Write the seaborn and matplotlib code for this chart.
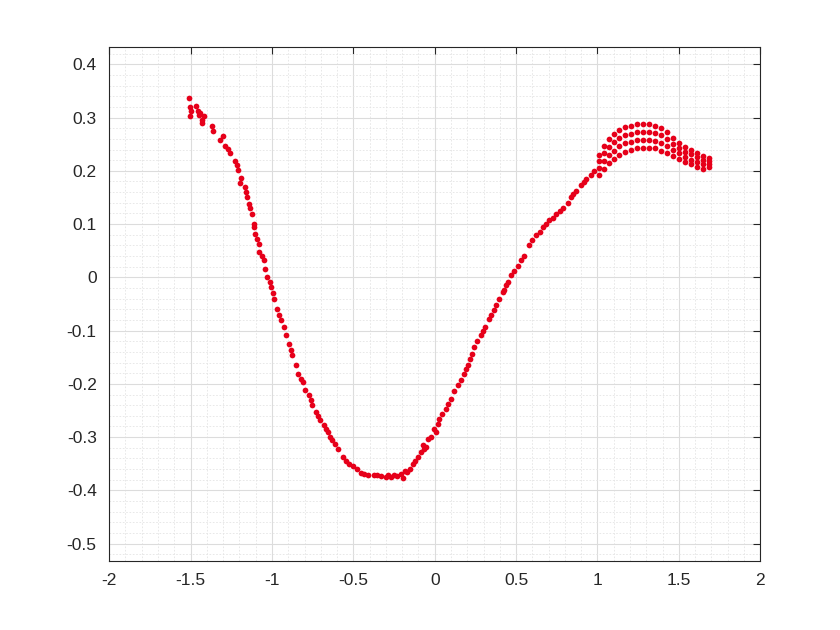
import numpy as np
import pandas as pd
import matplotlib
matplotlib.use("Agg")
import matplotlib.pyplot as plt
from matplotlib.ticker import MultipleLocator
import seaborn as sns

# ---------------------------------------------------
# DATA
# ---------------------------------------------------

curve_x = [
    -1.508, -1.502, -1.505, -1.465, -1.455, -1.44, -1.428, -1.42, -1.366, -1.36,
    -1.317, -1.286, -1.255, -1.225, -1.206, -1.188, -1.163, -1.151, -1.138, -1.132,
    -1.120, -1.108, -1.102, -1.077, -1.077, -1.046, -1.040, -1.028, -1.009, -1.003,
    -0.985, -0.966, -0.942, -0.929, -0.911, -0.898, -0.874, -0.855, -0.837, -0.812,
    -0.794, -0.775, -0.751, -0.732, -0.702, -0.683, -0.658, -0.646, -0.628, -0.597,
    -0.566, -0.529, -0.505, -0.455, -0.412, -0.375, -0.332, -0.302, -0.271, -0.252,
    -0.209, -0.197, -0.172, -0.154, -0.135, -0.105, -0.086, -0.074, -0.055, -0.043,
    -0.025, -0.006, 0.018, 0.025, 0.068, 0.098, 0.142, 0.178, 0.203, 0.215,
    0.240, 0.283, 0.308, 0.332, 0.363, 0.394, 0.418, 0.437, 0.468, 0.511,
    0.548, 0.578, 0.622, 0.665, 0.702, 0.745, 0.788, 0.818, 0.837, 0.868,
    0.898, 0.929, 0.960, 0.978,
    # extra dots filling the short streaks
    -1.498, -1.448, -1.432, -1.300, -1.270, -1.215, -1.196, -1.157, -1.113, -1.090,
    -1.060, -0.995, -0.955, -0.885, -0.820, -0.762, -0.715, -0.670, -0.612, -0.545,
    -0.480, -0.435, -0.355, -0.285, -0.232, -0.185, -0.118, -0.065, 0.005, 0.045,
    0.082, 0.120, 0.160, 0.190, 0.228, 0.262, 0.296, 0.348, 0.378, 0.428,
    0.452, 0.490, 0.530, 0.600, 0.645, 0.685, 0.725, 0.770, 0.852, 0.915,
]
curve_y = [
    0.337, 0.303, 0.320, 0.322, 0.312, 0.309, 0.296, 0.302, 0.285, 0.275,
    0.258, 0.247, 0.234, 0.219, 0.202, 0.187, 0.169, 0.150, 0.137, 0.131,
    0.118, 0.094, 0.081, 0.062, 0.047, 0.032, 0.015, 0.000, -0.009, -0.019,
    -0.041, -0.060, -0.081, -0.094, -0.109, -0.125, -0.146, -0.165, -0.182, -0.197,
    -0.212, -0.221, -0.240, -0.253, -0.268, -0.277, -0.290, -0.300, -0.305, -0.322,
    -0.337, -0.350, -0.354, -0.367, -0.371, -0.371, -0.373, -0.375, -0.375, -0.371,
    -0.369, -0.376, -0.365, -0.360, -0.350, -0.337, -0.328, -0.315, -0.318, -0.303,
    -0.300, -0.285, -0.275, -0.266, -0.247, -0.228, -0.202, -0.182, -0.165, -0.154,
    -0.131, -0.109, -0.094, -0.079, -0.062, -0.041, -0.028, -0.015, 0.004, 0.022,
    0.041, 0.060, 0.079, 0.094, 0.107, 0.118, 0.131, 0.140, 0.150, 0.163,
    0.174, 0.184, 0.193, 0.200,
    0.312, 0.305, 0.290, 0.266, 0.241, 0.211, 0.178, 0.160, 0.100, 0.072,
    0.040, -0.030, -0.070, -0.136, -0.190, -0.230, -0.260, -0.284, -0.313, -0.344,
    -0.360, -0.369, -0.372, -0.372, -0.373, -0.363, -0.345, -0.322, -0.290, -0.256,
    -0.238, -0.214, -0.192, -0.172, -0.143, -0.120, -0.100, -0.071, -0.052, -0.024,
    -0.008, 0.012, 0.032, 0.070, 0.086, 0.100, 0.112, 0.125, 0.156, 0.179,
]

hump_x = [
    1.009, 1.040, 1.071, 1.102, 1.132, 1.169, 1.206, 1.243, 1.280, 1.317,
    1.354, 1.391, 1.428, 1.465, 1.502, 1.538, 1.575, 1.612, 1.649, 1.686,
]
hump_top = [
    0.230, 0.247, 0.260, 0.270, 0.277, 0.283, 0.285, 0.287, 0.287, 0.287,
    0.285, 0.281, 0.272, 0.262, 0.253, 0.245, 0.240, 0.234, 0.228, 0.225,
]
hump_mid1 = [
    0.218, 0.233, 0.245, 0.254, 0.261, 0.267, 0.270, 0.272, 0.272, 0.272,
    0.271, 0.267, 0.260, 0.251, 0.243, 0.236, 0.231, 0.226, 0.220, 0.219,
]
hump_mid2 = [
    0.206, 0.218, 0.230, 0.238, 0.246, 0.252, 0.255, 0.257, 0.258, 0.258,
    0.256, 0.252, 0.247, 0.240, 0.233, 0.226, 0.221, 0.217, 0.212, 0.213,
]
hump_low = [
    0.193, 0.204, 0.215, 0.223, 0.230, 0.236, 0.240, 0.242, 0.243, 0.243,
    0.242, 0.238, 0.234, 0.228, 0.223, 0.217, 0.212, 0.208, 0.204, 0.208,
]

x_ticks = [-2, -1.5, -1, -0.5, 0, 0.5, 1, 1.5, 2]
x_labels = ["-2", "-1.5", "-1", "-0.5", "0", "0.5", "1", "1.5", "2"]
y_ticks = [-0.5, -0.4, -0.3, -0.2, -0.1, 0, 0.1, 0.2, 0.3, 0.4]
y_labels = ["-0.5", "-0.4", "-0.3", "-0.2", "-0.1", "0", "0.1", "0.2", "0.3", "0.4"]

# ---------------------------------------------------
# BUILD TABLE
# ---------------------------------------------------

xs = list(curve_x)
ys = list(curve_y)
for row in [hump_top, hump_mid1, hump_mid2, hump_low]:
    xs += hump_x
    ys += row

df = pd.DataFrame({"x": xs, "y": ys})

# ---------------------------------------------------
# PLOT
# ---------------------------------------------------

sns.set_style("white")
plt.rcParams["font.family"] = ["Liberation Sans", "DejaVu Sans"]

fig = plt.figure(figsize=(8.4, 6.3), dpi=100)
ax = fig.add_axes([0.13, 0.11, 0.775, 0.815])

sns.scatterplot(data=df, x="x", y="y", ax=ax, color="#e6001a",
                s=17, linewidth=0, zorder=3)

ax.set_xlim(-2, 2)
ax.set_ylim(-0.532, 0.432)
ax.set_xticks(x_ticks)
ax.set_xticklabels(x_labels)
ax.set_yticks(y_ticks)
ax.set_yticklabels(y_labels)
ax.xaxis.set_minor_locator(MultipleLocator(0.1))
ax.yaxis.set_minor_locator(MultipleLocator(0.02))

ax.grid(which="major", color="#dcdcdc", linewidth=0.8, linestyle="-")
ax.grid(which="minor", color="#e4e4e4", linewidth=0.6, linestyle=(0, (2, 2)))
ax.set_axisbelow(True)

ax.tick_params(which="major", direction="in", length=5, width=0.8,
               colors="#262626", labelsize=12.5, pad=9,
               top=True, right=True)
ax.tick_params(which="minor", length=0)
for side in ["top", "right", "bottom", "left"]:
    ax.spines[side].set_visible(True)
    ax.spines[side].set_color("#262626")
    ax.spines[side].set_linewidth(0.8)

ax.set_xlabel("")
ax.set_ylabel("")

fig.savefig("out.png", dpi=100)
